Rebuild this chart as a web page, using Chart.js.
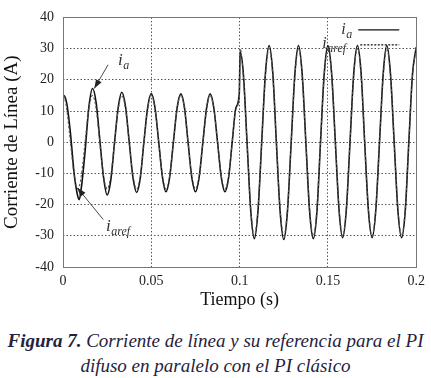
<!DOCTYPE html>
<html>
<head>
<meta charset="utf-8">
<script src="https://cdn.jsdelivr.net/npm/chart.js@4"></script>
<style>
  html, body { margin: 0; padding: 0; background: #fff; }
  #wrap { position: relative; width: 431px; height: 378px; overflow: hidden; }
  #box { position: absolute; left: 0; top: 0; width: 431px; height: 318px; }
  #cap { position: absolute; left: 0; top: 328px; width: 431px; text-align: center;
         font-family: "Liberation Serif", serif; font-style: italic; font-size: 19px;
         line-height: 25px; color: #1f2340; white-space: nowrap; }
</style>
</head>
<body>
<div id="wrap">
  <div id="box"><canvas id="c"></canvas></div>
  <div id="cap"><b>Figura 7.</b> Corriente de línea y su referencia para el PI<br>difuso en paralelo con el PI clásico</div>
</div>
<script>
// ---- data ----
const time = [0, 0.0002, 0.0021, 0.0042, 0.0063, 0.0083, 0.0092, 0.0104, 0.0125, 0.0146,
  0.0167, 0.0188, 0.0208, 0.0229, 0.0250, 0.0271, 0.0292, 0.0313,
  0.0333, 0.0354, 0.0375, 0.0396, 0.0417, 0.0438, 0.0458, 0.0479,
  0.0500, 0.0521, 0.0542, 0.0563, 0.0583, 0.0604, 0.0625, 0.0646,
  0.0667, 0.0688, 0.0708, 0.0729, 0.0750, 0.0771, 0.0792, 0.0813,
  0.0833, 0.0854, 0.0875, 0.0896, 0.0917, 0.0938, 0.0958, 0.0979,
  0.0998, 0.1003, 0.1021, 0.1042, 0.1063, 0.1083, 0.1104, 0.1125, 0.1146,
  0.1167, 0.1188, 0.1208, 0.1229, 0.1250, 0.1271, 0.1292, 0.1313,
  0.1333, 0.1354, 0.1375, 0.1396, 0.1417, 0.1438, 0.1458, 0.1479,
  0.1500, 0.1521, 0.1542, 0.1563, 0.1583, 0.1604, 0.1625, 0.1646,
  0.1667, 0.1688, 0.1708, 0.1729, 0.1750, 0.1771, 0.1792, 0.1813,
  0.1833, 0.1854, 0.1875, 0.1896, 0.1917, 0.1938, 0.1958, 0.1979,
  0.2000];

const ia = [0, 15, 12.5, 3, -10, -17.2, -18.4, -14.5, -3, 11,
  17.2, 12.5, 1, -11, -16.9, -12, 0, 11.3,
  16, 11.4, 0, -11.3, -16.1, -11.3, 0, 11,
  15.6, 11, 0, -11.2, -15.9, -11.2, 0, 11,
  15.5, 11, 0, -11.2, -15.9, -11.2, 0, 11,
  15.5, 11, 0, -11.2, -15.9, -11.2, 0, 11,
  15.6, 29, 22, 0, -22, -30.9, -22, 0, 22,
  31, 22, 0, -22, -31.2, -22, 0, 22,
  31, 22, 0, -22, -30.9, -22, 0, 22,
  31, 22, 0, -21.8, -30.6, -21.8, 0, 22,
  31, 22, 0, -21.8, -30.6, -21.8, 0, 22,
  31, 22, 0, -21.8, -30.6, -21.8, 0, 22,
  30.5];

const iaRef = [15, 15, 10.6, 0, -10.6, -15, -14.2, -10.6, 0, 10.6,
  15, 10.6, 0, -10.6, -15, -10.6, 0, 10.6,
  15, 10.6, 0, -10.6, -15, -10.6, 0, 10.6,
  15, 10.6, 0, -10.6, -15, -10.6, 0, 10.6,
  15, 10.6, 0, -10.6, -15, -10.6, 0, 10.6,
  15, 10.6, 0, -10.6, -15, -10.6, 0, 10.6,
  15, 30, 21.2, 0, -21.2, -30, -21.2, 0, 21.2,
  30, 21.2, 0, -21.2, -30, -21.2, 0, 21.2,
  30, 21.2, 0, -21.2, -30, -21.2, 0, 21.2,
  30, 21.2, 0, -21.2, -30, -21.2, 0, 21.2,
  30, 21.2, 0, -21.2, -30, -21.2, 0, 21.2,
  30, 21.2, 0, -21.2, -30, -21.2, 0, 21.2,
  30];

const xTickLabels = ['0', '0.05', '0.1', '0.15', '0.2'];
const yTickLabels = ['-40', '-30', '-20', '-10', '0', '10', '20', '30', '40'];
const xTitle = 'Tiempo (s)';
const yTitle = 'Corriente de Línea (A)';

// annotations (data units): label text, tail of arrow, arrow tip
const noteA   = { main: 'i', sub: 'a',    textX: 0.0311, textY: 24.6,  tailX: 0.0255, tailY: 24.8,  tipX: 0.0177, tipY: 17.2 };
const noteRef = { main: 'i', sub: 'aref', textX: 0.0244, textY: -28.6, tailX: 0.0228, tailY: -24.8, tipX: 0.0081, tipY: -14.6 };

// ---- chart ----
const serif = '"Liberation Serif", "Times New Roman", serif';

function mathLabel(ctx, x, y, main, sub, size) {
  ctx.save();
  ctx.textBaseline = 'alphabetic';
  ctx.textAlign = 'left';
  ctx.font = 'italic ' + size + 'px ' + serif;
  ctx.fillText(main, x, y);
  const w = ctx.measureText(main).width;
  ctx.font = 'italic ' + Math.round(size * 0.72) + 'px ' + serif;
  ctx.fillText(sub, x + w + 0.5, y + size * 0.22);
  ctx.restore();
}

function arrow(ctx, x1, y1, x2, y2) {
  ctx.save();
  ctx.strokeStyle = '#333';
  ctx.fillStyle = '#222';
  ctx.lineWidth = 0.9;
  ctx.beginPath(); ctx.moveTo(x1, y1); ctx.lineTo(x2, y2); ctx.stroke();
  const a = Math.atan2(y2 - y1, x2 - x1), L = 9, W = 3.2;
  ctx.beginPath();
  ctx.moveTo(x2, y2);
  ctx.lineTo(x2 - L * Math.cos(a) + W * Math.sin(a), y2 - L * Math.sin(a) - W * Math.cos(a));
  ctx.lineTo(x2 - L * Math.cos(a) - W * Math.sin(a), y2 - L * Math.sin(a) + W * Math.cos(a));
  ctx.closePath(); ctx.fill();
  ctx.restore();
}

const decor = {
  id: 'decor',
  afterDraw(chart) {
    const { ctx, chartArea: ca, scales: { x, y } } = chart;
    // plot frame
    ctx.save();
    ctx.strokeStyle = '#777';
    ctx.lineWidth = 1;
    ctx.strokeRect(Math.round(ca.left) + 0.5, Math.round(ca.top) + 0.5,
                   Math.round(ca.right - ca.left), Math.round(ca.bottom - ca.top));
    ctx.restore();

    // annotations
    [noteA, noteRef].forEach(n => {
      arrow(ctx, x.getPixelForValue(n.tailX), y.getPixelForValue(n.tailY),
                 x.getPixelForValue(n.tipX), y.getPixelForValue(n.tipY));
      ctx.fillStyle = '#333';
      mathLabel(ctx, x.getPixelForValue(n.textX), y.getPixelForValue(n.textY), n.main, n.sub, 17);
    });

    // legend (top-right, inside plot)
    ctx.save();
    ctx.fillStyle = '#333';
    mathLabel(ctx, ca.right - 75, ca.top + 17, 'i', 'a', 16);
    mathLabel(ctx, ca.right - 94, ca.top + 31, 'i', 'aref', 16);
    ctx.strokeStyle = '#111';
    ctx.lineWidth = 1.2;
    ctx.beginPath(); ctx.moveTo(ca.right - 58, ca.top + 12.5); ctx.lineTo(ca.right - 17, ca.top + 12.5); ctx.stroke();
    ctx.setLineDash([2, 1.5]);
    ctx.beginPath(); ctx.moveTo(ca.right - 56, ca.top + 27.5); ctx.lineTo(ca.right - 17, ca.top + 27.5); ctx.stroke();
    ctx.restore();
  }
};

const gridColor = (edgeA, edgeB) => (c) =>
  (c.tick && (Math.abs(c.tick.value - edgeA) < 1e-9 || Math.abs(c.tick.value - edgeB) < 1e-9)) ? 'rgba(0,0,0,0)' : '#555';

new Chart(document.getElementById('c'), {
  type: 'line',
  data: {
    datasets: [
      {
        label: 'i_aref',
        data: time.map((t, i) => ({ x: t, y: iaRef[i] })),
        borderColor: '#555',
        borderWidth: 1.1,
        borderDash: [2.5, 2],
        pointRadius: 0,
        cubicInterpolationMode: 'monotone',
        fill: false
      },
      {
        label: 'i_a',
        data: time.map((t, i) => ({ x: t, y: ia[i] })),
        borderColor: '#111',
        borderWidth: 1.6,
        pointRadius: 0,
        cubicInterpolationMode: 'monotone',
        fill: false
      }
    ]
  },
  options: {
    responsive: true,
    maintainAspectRatio: false,
    animation: false,
    events: [],
    layout: { padding: { top: 15, right: 13, left: 0, bottom: 0 } },
    plugins: { legend: { display: false }, tooltip: { enabled: false } },
    scales: {
      x: {
        type: 'linear', min: 0, max: 0.2,
        afterFit: s => { s.height = 51; },
        afterBuildTicks: s => { s.ticks = xTickLabels.map(v => ({ value: parseFloat(v) })); },
        ticks: {
          padding: 6, maxRotation: 0, autoSkip: false, color: '#222',
          font: { family: serif, size: 14 },
          callback: (v, i) => xTickLabels[i]
        },
        grid: { color: gridColor(0, 0.2), lineWidth: 1, drawTicks: false },
        border: { display: false, dash: [1.5, 2] },
        title: { display: true, text: xTitle, color: '#111',
                 font: { family: serif, size: 18 }, padding: { top: 0, bottom: 7 } }
      },
      y: {
        type: 'linear', min: -40, max: 40,
        afterFit: s => { s.width = 63; },
        afterBuildTicks: s => { s.ticks = yTickLabels.map(v => ({ value: parseFloat(v) })); },
        ticks: {
          padding: 9, color: '#222', autoSkip: false,
          font: { family: serif, size: 14 },
          callback: (v, i) => yTickLabels[i]
        },
        grid: { color: gridColor(-40, 40), lineWidth: 1, drawTicks: false },
        border: { display: false, dash: [1.5, 2] },
        title: { display: true, text: yTitle, color: '#111',
                 font: { family: serif, size: 19 }, padding: { top: 1, bottom: 0 } }
      }
    }
  },
  plugins: [decor]
});
</script>
</body>
</html>
